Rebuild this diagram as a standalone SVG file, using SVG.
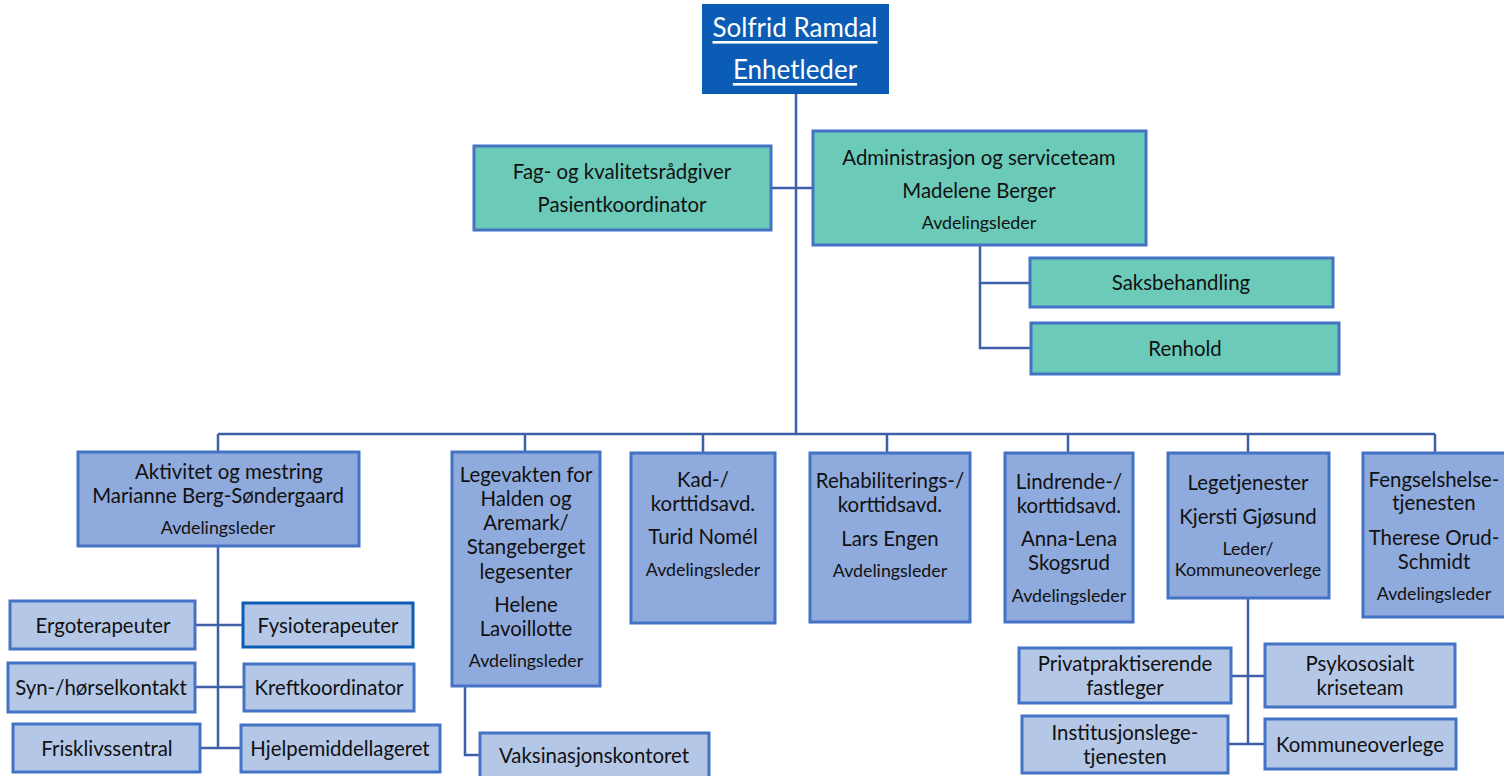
<svg xmlns="http://www.w3.org/2000/svg" width="1504" height="776" viewBox="0 0 1504 776">
<style>
text{font-family:Lato,"Liberation Sans",sans-serif;fill:#111;text-anchor:middle;dominant-baseline:central}
.t{font-size:20.4px}
.s{font-size:17.8px}
.top{fill:#0B5CB5;stroke:#0B5CB5;stroke-width:2}
.tt{font-size:26px;fill:#fff;text-decoration:underline}
.g{fill:#6CCAB9;stroke:#4472C4;stroke-width:3}
.b{fill:#8FAADC;stroke:#4472C4;stroke-width:3}
.l{fill:#B4C7E7;stroke:#4472C4;stroke-width:3}
.c{fill:none;stroke:#3F5FA8;stroke-width:2.5}
</style>
<rect width="1504" height="776" fill="#fff"/>
<g id="connectors">
<path class="c" d="M796 93V434M771 188H813M980 245V348H1031M980 283H1030"/>
<path class="c" d="M218 434H1435M218 434V452M525 434V452M703 434V453M887 434V453M1068 434V453M1248 434V453M1435 434V453"/>
<path class="c" d="M218 546V748M195 625H243M195 687H244M200 748H241"/>
<path class="c" d="M465 686V755H480"/>
<path class="c" d="M1248 598V744M1231 676H1265M1228 744H1265"/>
</g>
<g id="n-top"><rect class="top" x="703" y="5" width="185" height="88"/><text class="tt" x="795" y="27">Solfrid Ramdal</text><text class="tt" x="795" y="69">Enhetleder</text></g>
<g id="n-fag"><rect class="g" x="474" y="146" width="297" height="84"/><text class="t" x="622" y="171">Fag- og kvalitetsrådgiver</text><text class="t" x="622" y="204">Pasientkoordinator</text></g>
<g id="n-admin"><rect class="g" x="813" y="131" width="333" height="114"/><text class="t" x="979" y="157">Administrasjon og serviceteam</text><text class="t" x="979" y="190">Madelene Berger</text><text class="s" x="979" y="222">Avdelingsleder</text></g>
<g id="n-saks"><rect class="g" x="1030" y="258" width="303" height="49"/><text class="t" x="1181" y="282">Saksbehandling</text></g>
<g id="n-renhold"><rect class="g" x="1031" y="323" width="308" height="51"/><text class="t" x="1185" y="348">Renhold</text></g>
<g id="n-aktivitet"><rect class="b" x="78" y="452" width="281" height="94"/><text class="t" x="229" y="471">Aktivitet og mestring</text><text class="t" x="218" y="495">Marianne Berg-Søndergaard</text><text class="s" x="218" y="527">Avdelingsleder</text></g>
<g id="n-legevakt"><rect class="b" x="452" y="452" width="148" height="234"/><text class="t" x="526" y="474">Legevakten for</text><text class="t" x="526" y="498">Halden og</text><text class="t" x="526" y="522">Aremark/</text><text class="t" x="526" y="546">Stangeberget</text><text class="t" x="526" y="571">legesenter</text><text class="t" x="526" y="604">Helene</text><text class="t" x="526" y="628">Lavoillotte</text><text class="s" x="526" y="660">Avdelingsleder</text></g>
<g id="n-kad"><rect class="b" x="631" y="453" width="144" height="170"/><text class="t" x="703" y="479">Kad-/</text><text class="t" x="703" y="503">korttidsavd.</text><text class="t" x="703" y="536">Turid Nomél</text><text class="s" x="703" y="569">Avdelingsleder</text></g>
<g id="n-rehab"><rect class="b" x="810" y="453" width="160" height="169"/><text class="t" x="890" y="480">Rehabiliterings-/</text><text class="t" x="890" y="504">korttidsavd.</text><text class="t" x="890" y="538">Lars Engen</text><text class="s" x="890" y="570">Avdelingsleder</text></g>
<g id="n-lindrende"><rect class="b" x="1005" y="453" width="128" height="169"/><text class="t" x="1069" y="481">Lindrende-/</text><text class="t" x="1069" y="505">korttidsavd.</text><text class="t" x="1069" y="538">Anna-Lena</text><text class="t" x="1069" y="562">Skogsrud</text><text class="s" x="1069" y="595">Avdelingsleder</text></g>
<g id="n-lege"><rect class="b" x="1168" y="453" width="161" height="145"/><text class="t" x="1248" y="482">Legetjenester</text><text class="t" x="1248" y="516">Kjersti Gjøsund</text><text class="s" x="1248" y="548">Leder/</text><text class="s" x="1248" y="569">Kommuneoverlege</text></g>
<g id="n-fengsel"><rect class="b" x="1363" y="453" width="143" height="164"/><text class="t" x="1434" y="479">Fengselshelse-</text><text class="t" x="1434" y="502">tjenesten</text><text class="t" x="1434" y="537">Therese Orud-</text><text class="t" x="1434" y="561">Schmidt</text><text class="s" x="1434" y="593">Avdelingsleder</text></g>
<g id="n-ergo"><rect class="l" x="10" y="601" width="185" height="48"/><text class="t" x="103" y="625">Ergoterapeuter</text></g>
<g id="n-fysio"><rect class="l" x="243" y="603" width="170" height="44" style="stroke:#0B5CB5"/><text class="t" x="328" y="625">Fysioterapeuter</text></g>
<g id="n-syn"><rect class="l" x="8" y="663" width="187" height="49"/><text class="t" x="101" y="687">Syn-/hørselkontakt</text></g>
<g id="n-kreft"><rect class="l" x="244" y="664" width="170" height="47"/><text class="t" x="329" y="687">Kreftkoordinator</text></g>
<g id="n-frisk"><rect class="l" x="13" y="724" width="187" height="48"/><text class="t" x="107" y="748">Frisklivssentral</text></g>
<g id="n-hjelp"><rect class="l" x="241" y="725" width="199" height="47"/><text class="t" x="340" y="748">Hjelpemiddellageret</text></g>
<g id="n-vaks"><rect class="l" x="480" y="733" width="229" height="50"/><text class="t" x="594" y="755">Vaksinasjonskontoret</text></g>
<g id="n-privat"><rect class="l" x="1019" y="648" width="212" height="55"/><text class="t" x="1125" y="663">Privatpraktiserende</text><text class="t" x="1125" y="687">fastleger</text></g>
<g id="n-psyk"><rect class="l" x="1265" y="644" width="190" height="63"/><text class="t" x="1360" y="663">Psykososialt</text><text class="t" x="1360" y="687">kriseteam</text></g>
<g id="n-inst"><rect class="l" x="1022" y="716" width="206" height="57"/><text class="t" x="1125" y="732">Institusjonslege-</text><text class="t" x="1125" y="756">tjenesten</text></g>
<g id="n-kommune"><rect class="l" x="1265" y="719" width="191" height="50"/><text class="t" x="1360" y="744">Kommuneoverlege</text></g>
</svg>
